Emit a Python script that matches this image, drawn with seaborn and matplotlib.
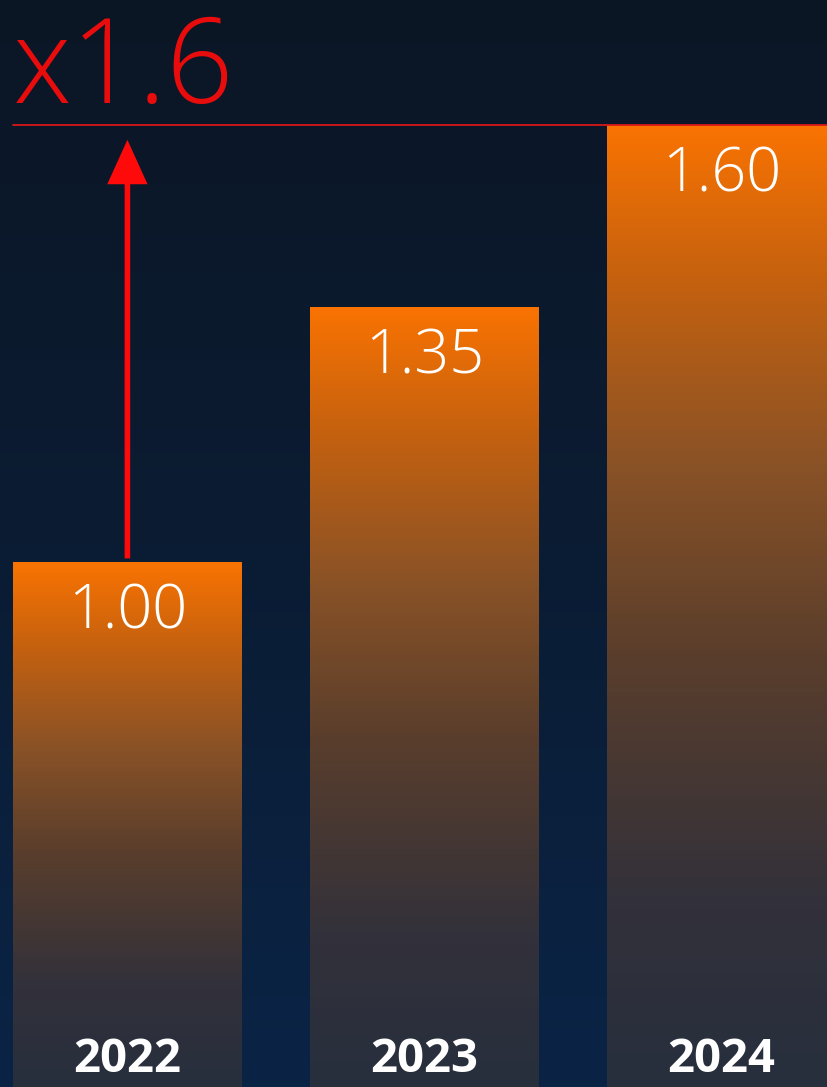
import numpy as np
import pandas as pd
import matplotlib
matplotlib.use("Agg")
import matplotlib.pyplot as plt
import seaborn as sns
from matplotlib.colors import LinearSegmentedColormap
import matplotlib.transforms as mtransforms

years = ["2022", "2023", "2024"]
values = [1.00, 1.35, 1.60]
value_labels = ["1.00", "1.35", "1.60"]
multiplier_label = "x1.6"

sns.set_theme(style="white")
plt.rcParams["font.family"] = ["Open Sans", "DejaVu Sans"]

W, H = 828, 1087
fig = plt.figure(figsize=(W / 100, H / 100), dpi=100)
ax = fig.add_axes([0, 0, 1, 1])

df = pd.DataFrame({"year": years, "value": values})
sns.barplot(data=df, x="year", y="value", ax=ax, width=0.771, color="#F97000",
            edgecolor="none", linewidth=0, zorder=2)

y_lo, y_hi = 0.279, 1.772
x_lo, x_hi = -0.429, 2.359
ax.set_xlim(x_lo, x_hi)
ax.set_ylim(y_lo, y_hi)
ax.axis("off")

# background gradient
bg = LinearSegmentedColormap.from_list("bg", ["#0a2446", "#0b1c33", "#0b1625"])
grad = np.linspace(0, 1, 256).reshape(-1, 1)
ax.imshow(grad, cmap=bg, extent=[x_lo, x_hi, y_lo, y_hi], origin="lower",
          aspect="auto", zorder=0)

# bar gradients
barcm = LinearSegmentedColormap.from_list(
    "bar", [(0.0, "#272f3d"), (0.2, "#33313a"), (0.45, "#5a3e2c"),
            (0.65, "#8a5226"), (0.85, "#c8620e"), (1.0, "#f97302")])
for p in ax.patches:
    x0 = p.get_x()
    w = p.get_width()
    top = p.get_height()
    p.set_facecolor("none")
    im = ax.imshow(grad, cmap=barcm, extent=[x0, x0 + w, y_lo, top],
                   origin="lower", aspect="auto", zorder=2)
    im.set_clip_path(p)

# value labels
for i, (v, lab) in enumerate(zip(values, value_labels)):
    ax.text(i, v - 0.070, lab, ha="center", va="center", color="white",
            fontsize=44, fontweight=300, zorder=5)

# year labels
trans = mtransforms.blended_transform_factory(ax.transData, ax.transAxes)
for i, yr in enumerate(years):
    ax.text(i, 0.014, yr, ha="center", va="baseline", color="white",
            fontsize=34, fontweight="bold", transform=trans, zorder=5)

# red reference line
ax.plot([-0.385, x_hi], [values[-1], values[-1]], color="#d81818", lw=1.3, zorder=4)

# arrow
ax.annotate("", xy=(0, 1.580), xytext=(0, values[0] + 0.005),
            arrowprops=dict(facecolor="#ff0a0a", edgecolor="none", width=4.0,
                            headwidth=29, headlength=32, shrink=0), zorder=4)

# multiplier text
ax.text(-0.385, 1.630, multiplier_label, ha="left", va="baseline", color="#e80c0c",
        fontsize=85, fontweight=300, zorder=5)

fig.savefig("out.png", dpi=100, facecolor="#0c1726")
